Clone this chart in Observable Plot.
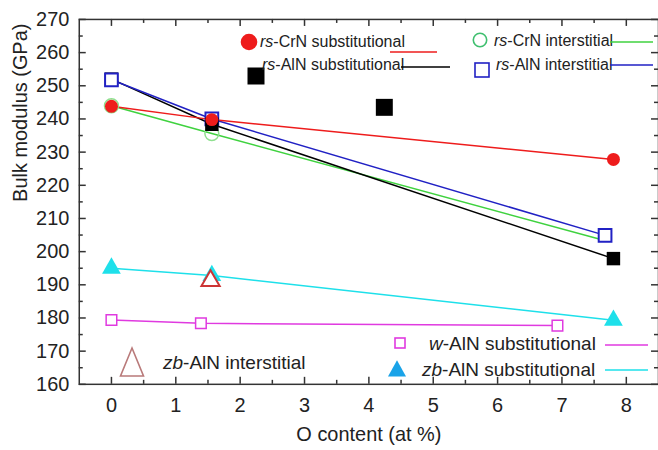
<!DOCTYPE html>
<html><head><meta charset="utf-8">
<script src="https://cdn.jsdelivr.net/npm/d3@7"></script>
<script src="https://cdn.jsdelivr.net/npm/@observablehq/plot@0.6"></script>
<style>
html,body{margin:0;padding:0;background:#fff;overflow:hidden}
#chart{position:relative;width:658px;height:450px;overflow:hidden;background:#fff}
#chart svg{position:absolute;left:0;top:0}
</style></head><body><div id="chart"></div>
<script>
// ---- data (O content in at %, bulk modulus in GPa) ----
const rsCrNSubX = [0, 1.56, 7.8];
const rsCrNSubY = [243.8, 239.8, 227.8];
const rsCrNIntX = [0, 1.56, 7.62];
const rsCrNIntY = [244.0, 235.6, 203.6];
const rsCrNIntMarkers = 2; // only first two markers visible
const rsAlNSubX = [0, 1.56, 7.8];
const rsAlNSubY = [252.0, 238.4, 197.9];
const rsAlNSubExtraX = [4.24];
const rsAlNSubExtraY = [243.5];
const rsAlNIntX = [0, 1.56, 7.67];
const rsAlNIntY = [251.8, 240.0, 204.9];
const wAlNSubX = [0, 1.39, 6.93];
const wAlNSubY = [179.4, 178.4, 177.7];
const zbAlNSubX = [0, 1.56, 7.8];
const zbAlNSubY = [195.0, 192.8, 179.3];
const zbAlNIntX = [1.54];
const zbAlNIntY = [191.2];

const xTicks = [0, 1, 2, 3, 4, 5, 6, 7, 8];
const xMinorTicks = [0.5, 1.5, 2.5, 3.5, 4.5, 5.5, 6.5, 7.5];
const yTicks = [160, 170, 180, 190, 200, 210, 220, 230, 240, 250, 260, 270];
const yMinorTicks = [165, 175, 185, 195, 205, 215, 225, 235, 245, 255, 265];

const legendNames = ["rs-CrN substitutional", "rs-AlN substitutional", "rs-CrN interstitial", "rs-AlN interstitial", "w-AlN substitutional", "zb-AlN substitutional", "zb-AlN interstitial"];

// ---- colours ----
const C = {red:"#ee1c1c", black:"#000", green:"#3fd23f", blue:"#2121c4", magenta:"#e03ae0", cyan:"#1ee0ea", brown:"#cc3535"};

const rows = (xs, ys) => xs.map((x, i) => ({x, y: ys[i]}));

const W = 660, H = 450, ML = 79, MR = 0, MT = 19, MB = 65;
const iw = W - ML - MR, ih = H - MT - MB;
const axisColor = "#333";
const font = "'Liberation Sans', Arial, sans-serif";
const blueRows = rows(rsAlNIntX, rsAlNIntY);

const plot = Plot.plot({
  width: W, height: H,
  marginLeft: ML, marginRight: MR, marginTop: MT, marginBottom: MB,
  x: {domain: [-0.5, 8.5]},
  y: {domain: [160, 270]},
  style: {fontFamily: font, color: "#222", background: "transparent"},
  marks: [
    // lines
    Plot.line(rows(zbAlNSubX, zbAlNSubY), {x: "x", y: "y", stroke: C.cyan, strokeWidth: 1.5}),
    Plot.line(rows(wAlNSubX, wAlNSubY), {x: "x", y: "y", stroke: C.magenta, strokeWidth: 1.5}),
    Plot.line(rows(rsCrNIntX, rsCrNIntY), {x: "x", y: "y", stroke: C.green, strokeWidth: 1.5}),
    Plot.line(rows(rsAlNSubX, rsAlNSubY), {x: "x", y: "y", stroke: C.black, strokeWidth: 1.5}),
    Plot.line(blueRows, {x: "x", y: "y", stroke: C.blue, strokeWidth: 1.5}),
    Plot.line(rows(rsCrNSubX, rsCrNSubY), {x: "x", y: "y", stroke: C.red, strokeWidth: 1.5}),
    // markers
    Plot.dot(rows(zbAlNSubX, zbAlNSubY), {x: "x", y: "y", symbol: "triangle", r: 7, fill: C.cyan}),
    Plot.dot(rows(zbAlNIntX, zbAlNIntY), {x: "x", y: "y", symbol: "triangle", r: 6.8, fill: "white", stroke: C.brown, strokeWidth: 2}),
    Plot.dot(rows(wAlNSubX, wAlNSubY), {x: "x", y: "y", symbol: "square", r: 6, fill: "white", stroke: C.magenta, strokeWidth: 1.5}),
    Plot.dot(rows(rsCrNIntX, rsCrNIntY).slice(0, rsCrNIntMarkers), {x: "x", y: "y", r: 7, fill: "none", stroke: "#8fe08f", strokeWidth: 1.5}),
    Plot.dot(blueRows.slice(1), {x: "x", y: "y", symbol: "square", r: 7.2, fill: "white", stroke: C.blue, strokeWidth: 2}),
    Plot.dot(rows(rsAlNSubX, rsAlNSubY), {x: "x", y: "y", symbol: "square", r: 7.6, fill: C.black}),
    Plot.dot(rows(rsAlNSubExtraX, rsAlNSubExtraY), {x: "x", y: "y", symbol: "square", r: 9.6, fill: C.black}),
    Plot.dot(blueRows.slice(0, 1), {x: "x", y: "y", symbol: "square", r: 7.2, fill: "white", stroke: C.blue, strokeWidth: 2}),
    Plot.dot(rows(rsCrNSubX, rsCrNSubY), {x: "x", y: "y", r: 6.5, fill: C.red}),
    // inward ticks
    Plot.tickY(yTicks, {y: d => d, insetRight: iw - 7, stroke: axisColor, strokeWidth: 1.5}),
    Plot.tickY(yMinorTicks, {y: d => d, insetRight: iw - 4, stroke: axisColor, strokeWidth: 1.5}),
    Plot.tickY(yTicks, {y: d => d, insetLeft: iw - 7, stroke: axisColor, strokeWidth: 1.5}),
    Plot.tickY(yMinorTicks, {y: d => d, insetLeft: iw - 4, stroke: axisColor, strokeWidth: 1.5}),
    Plot.tickX(xTicks, {x: d => d, insetTop: ih - 7, stroke: axisColor, strokeWidth: 1.5}),
    Plot.tickX(xMinorTicks, {x: d => d, insetTop: ih - 4, stroke: axisColor, strokeWidth: 1.5}),
    Plot.tickX(xTicks, {x: d => d, insetBottom: ih - 7, stroke: axisColor, strokeWidth: 1.5}),
    Plot.tickX(xMinorTicks, {x: d => d, insetBottom: ih - 4, stroke: axisColor, strokeWidth: 1.5}),
    Plot.frame({stroke: axisColor, strokeWidth: 1.5}),
    // tick labels
    Plot.axisX(xTicks, {tickSize: 0, tickPadding: 14, label: null, fontSize: 20, fill: "#222"}),
    Plot.axisY(yTicks, {tickSize: 0, tickPadding: 10, label: null, fontSize: 20, fill: "#222"}),
    // axis titles
    Plot.text(["O content (at %)"], {frameAnchor: "bottom", dy: 57, text: d => d, fontSize: 20, fill: "#222"}),
    Plot.text(["Bulk modulus (GPa)"], {frameAnchor: "left", dx: -59, rotate: -90, text: d => d, fontSize: 20, fill: "#222"})
  ]
});
document.getElementById("chart").appendChild(plot);

// ---- legend overlay ----
const ov = d3.select("#chart").append("svg").attr("width", 658).attr("height", 450)
  .style("font-family", font).style("fill", "#222");
const legend = [
  {name: legendNames[0], sym: "circle", fill: C.red, stroke: null, sx: 249, sy: 42, s: 8.3, tx: 260, ty: 41, fs: 16, lx: [390, 437], ly: 52, lc: C.red},
  {name: legendNames[1], sym: "square", fill: C.black, stroke: null, sx: 256, sy: 76, s: 17, tx: 262, ty: 64, fs: 16, lx: [401, 450], ly: 67, lc: C.black},
  {name: legendNames[2], sym: "circle", fill: "none", stroke: "#3fbf6f", sx: 480, sy: 40, s: 6.7, tx: 494, ty: 40, fs: 16, lx: [610, 653], ly: 42, lc: C.green},
  {name: legendNames[3], sym: "square", fill: "none", stroke: C.blue, sx: 482, sy: 70, s: 14, tx: 496, ty: 64, fs: 16, lx: [610, 653], ly: 65, lc: C.blue},
  {name: legendNames[4], sym: "square", fill: "none", stroke: C.magenta, sx: 400, sy: 343, s: 10, tx: 429, ty: 343, fs: 19, lx: [605, 648], ly: 345, lc: C.magenta},
  {name: legendNames[5], sym: "triangle", fill: "#1aa3e8", stroke: null, sx: 397, sy: 370, s: 18, tx: 422, ty: 369, fs: 19, lx: [605, 648], ly: 370, lc: C.cyan},
  {name: legendNames[6], sym: "bigtriangle", fill: "none", stroke: "#b97a7a", sx: 132, sy: 362, s: 23, tx: 163, ty: 362, fs: 19, lx: null}
];
for (const L of legend) {
  let el;
  if (L.sym === "circle") {
    el = ov.append("circle").attr("cx", L.sx).attr("cy", L.sy).attr("r", L.s);
  } else if (L.sym === "square") {
    el = ov.append("rect").attr("x", L.sx - L.s / 2).attr("y", L.sy - L.s / 2).attr("width", L.s).attr("height", L.s);
  } else if (L.sym === "triangle") {
    const h = L.s * 0.9;
    el = ov.append("path").attr("d", `M${L.sx},${L.sy - h * 0.6}L${L.sx + L.s / 2},${L.sy + h * 0.4}L${L.sx - L.s / 2},${L.sy + h * 0.4}Z`);
  } else {
    el = ov.append("path").attr("d", `M${L.sx},${L.sy - 14}L${L.sx + L.s / 2},${L.sy + 14}L${L.sx - L.s / 2},${L.sy + 14}Z`);
  }
  el.attr("fill", L.fill).attr("stroke", L.stroke).attr("stroke-width", L.stroke ? 1.6 : null);
  const [it, rest] = [L.name.split("-")[0], "-" + L.name.split("-").slice(1).join("-")];
  const t = ov.append("text").attr("x", L.tx).attr("y", L.ty).attr("dy", "0.35em")
    .attr("font-size", L.fs).attr("fill", "#222");
  t.append("tspan").attr("font-style", "italic").text(it);
  t.append("tspan").text(rest);
  if (L.lx) ov.append("line").attr("x1", L.lx[0]).attr("x2", L.lx[1]).attr("y1", L.ly).attr("y2", L.ly)
    .attr("stroke", L.lc).attr("stroke-width", 1.5);
}
</script>
</body></html>
